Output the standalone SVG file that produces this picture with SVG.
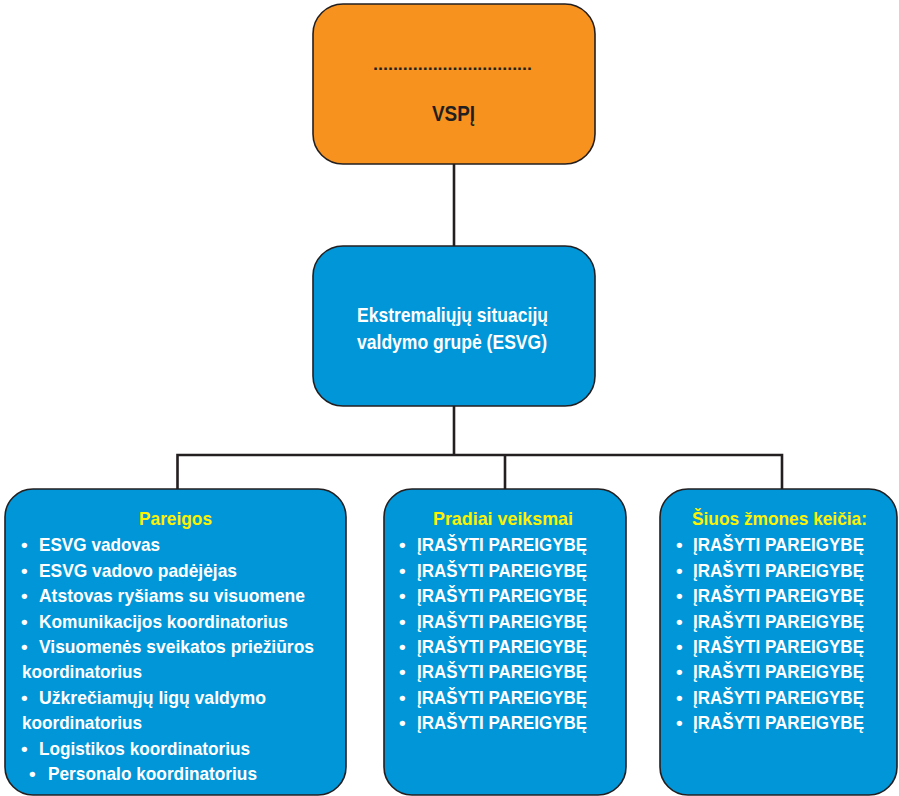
<svg xmlns="http://www.w3.org/2000/svg" width="899" height="796" viewBox="0 0 899 796">
<style>
.box{stroke:#231f20;stroke-width:1.6}
.orange{fill:#f7921f}
.blue{fill:#0096d8}
.conn{stroke:#231f20;stroke-width:2.6;fill:none}
text{font-family:"Liberation Sans",Arial,sans-serif;font-weight:bold}
.t{fill:#ffffff;font-size:19px}
.h{fill:#fff200;font-size:19px}
.w{fill:#ffffff;font-size:21px}
.d{fill:#231f20}
</style>
<g id="connectors">
<line class="conn" x1="454" y1="164" x2="454" y2="246"/>
<line class="conn" x1="454" y1="406" x2="454" y2="455"/>
<polyline class="conn" points="177.5,489 177.5,455 782,455 782,489"/>
<line class="conn" x1="505" y1="455" x2="505" y2="489"/>
</g>
<g id="vspi">
<rect class="box orange" x="313" y="4" width="282" height="160" rx="30"/>
<text class="d" x="373" y="70" font-size="17" textLength="159" lengthAdjust="spacingAndGlyphs">................................</text>
<text class="d" x="432" y="121" font-size="22" textLength="43" lengthAdjust="spacingAndGlyphs">VSPĮ</text>
</g>
<g id="esvg">
<rect class="box blue" x="313" y="246" width="282" height="160" rx="30"/>
<text class="w" x="357" y="322" textLength="191" lengthAdjust="spacingAndGlyphs">Ekstremaliųjų situacijų</text>
<text class="w" x="357" y="349" textLength="190" lengthAdjust="spacingAndGlyphs">valdymo grupė (ESVG)</text>
</g>
<g id="pareigos">
<rect class="box blue" x="5" y="489" width="341" height="306" rx="28"/>
<text class="h" x="139" y="525" textLength="73" lengthAdjust="spacingAndGlyphs">Pareigos</text>
<g class="t">
<text x="21" y="551">•</text><text x="39" y="551" textLength="121" lengthAdjust="spacingAndGlyphs">ESVG vadovas</text>
<text x="21" y="576.5">•</text><text x="39" y="576.5" textLength="198" lengthAdjust="spacingAndGlyphs">ESVG vadovo padėjėjas</text>
<text x="21" y="602">•</text><text x="39" y="602" textLength="266" lengthAdjust="spacingAndGlyphs">Atstovas ryšiams su visuomene</text>
<text x="21" y="627.5">•</text><text x="39" y="627.5" textLength="249" lengthAdjust="spacingAndGlyphs">Komunikacijos koordinatorius</text>
<text x="21" y="653">•</text><text x="39" y="653" textLength="275" lengthAdjust="spacingAndGlyphs">Visuomenės sveikatos priežiūros</text>
<text x="22" y="678" textLength="120" lengthAdjust="spacingAndGlyphs">koordinatorius</text>
<text x="21" y="703.5">•</text><text x="39" y="703.5" textLength="227" lengthAdjust="spacingAndGlyphs">Užkrečiamųjų ligų valdymo</text>
<text x="22" y="729" textLength="120" lengthAdjust="spacingAndGlyphs">koordinatorius</text>
<text x="21" y="754.5">•</text><text x="39" y="754.5" textLength="211" lengthAdjust="spacingAndGlyphs">Logistikos koordinatorius</text>
<text x="29" y="780">•</text><text x="48" y="780" textLength="209" lengthAdjust="spacingAndGlyphs">Personalo koordinatorius</text>
</g>
</g>
<g id="pradiai">
<rect class="box blue" x="384" y="489" width="242" height="306" rx="28"/>
<text class="h" x="433" y="525" textLength="140" lengthAdjust="spacingAndGlyphs">Pradiai veiksmai</text>
<g class="t">
<text x="399" y="551">•</text><text x="417" y="551" textLength="170" lengthAdjust="spacingAndGlyphs">ĮRAŠYTI PAREIGYBĘ</text>
<text x="399" y="576.5">•</text><text x="417" y="576.5" textLength="170" lengthAdjust="spacingAndGlyphs">ĮRAŠYTI PAREIGYBĘ</text>
<text x="399" y="602">•</text><text x="417" y="602" textLength="170" lengthAdjust="spacingAndGlyphs">ĮRAŠYTI PAREIGYBĘ</text>
<text x="399" y="627.5">•</text><text x="417" y="627.5" textLength="170" lengthAdjust="spacingAndGlyphs">ĮRAŠYTI PAREIGYBĘ</text>
<text x="399" y="653">•</text><text x="417" y="653" textLength="170" lengthAdjust="spacingAndGlyphs">ĮRAŠYTI PAREIGYBĘ</text>
<text x="399" y="678">•</text><text x="417" y="678" textLength="170" lengthAdjust="spacingAndGlyphs">ĮRAŠYTI PAREIGYBĘ</text>
<text x="399" y="703.5">•</text><text x="417" y="703.5" textLength="170" lengthAdjust="spacingAndGlyphs">ĮRAŠYTI PAREIGYBĘ</text>
<text x="399" y="729">•</text><text x="417" y="729" textLength="170" lengthAdjust="spacingAndGlyphs">ĮRAŠYTI PAREIGYBĘ</text>
</g>
</g>
<g id="keicia">
<rect class="box blue" x="660" y="489" width="237" height="306" rx="28"/>
<text class="h" x="692" y="525" textLength="175" lengthAdjust="spacingAndGlyphs">Šiuos žmones keičia:</text>
<g class="t">
<text x="676" y="551">•</text><text x="693" y="551" textLength="171" lengthAdjust="spacingAndGlyphs">ĮRAŠYTI PAREIGYBĘ</text>
<text x="676" y="576.5">•</text><text x="693" y="576.5" textLength="171" lengthAdjust="spacingAndGlyphs">ĮRAŠYTI PAREIGYBĘ</text>
<text x="676" y="602">•</text><text x="693" y="602" textLength="171" lengthAdjust="spacingAndGlyphs">ĮRAŠYTI PAREIGYBĘ</text>
<text x="676" y="627.5">•</text><text x="693" y="627.5" textLength="171" lengthAdjust="spacingAndGlyphs">ĮRAŠYTI PAREIGYBĘ</text>
<text x="676" y="653">•</text><text x="693" y="653" textLength="171" lengthAdjust="spacingAndGlyphs">ĮRAŠYTI PAREIGYBĘ</text>
<text x="676" y="678">•</text><text x="693" y="678" textLength="171" lengthAdjust="spacingAndGlyphs">ĮRAŠYTI PAREIGYBĘ</text>
<text x="676" y="703.5">•</text><text x="693" y="703.5" textLength="171" lengthAdjust="spacingAndGlyphs">ĮRAŠYTI PAREIGYBĘ</text>
<text x="676" y="729">•</text><text x="693" y="729" textLength="171" lengthAdjust="spacingAndGlyphs">ĮRAŠYTI PAREIGYBĘ</text>
</g>
</g>
</svg>
